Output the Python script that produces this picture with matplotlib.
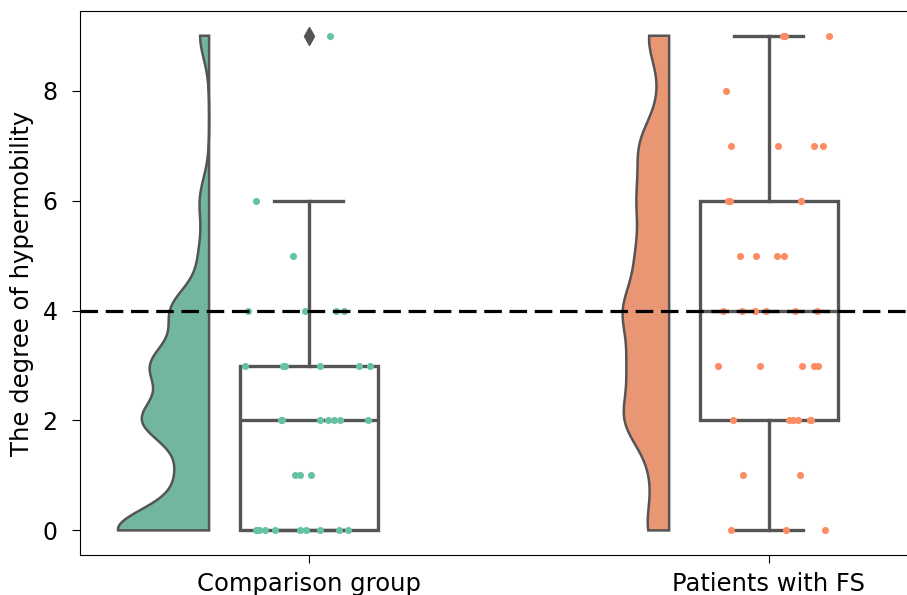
import numpy as np
import matplotlib
matplotlib.use("Agg")
import matplotlib.pyplot as plt

# ---- data ----
groups = ["Comparison group", "Patients with FS"]
comp_values = [0, 1, 2, 3, 4, 5, 6, 9]
comp_counts = [10, 3, 7, 6, 4, 1, 1, 1]
fs_values = [0, 1, 2, 3, 4, 5, 6, 7, 8, 9]
fs_counts = [3, 2, 6, 5, 6, 4, 4, 4, 1, 3]
colors = ["#66c2a5", "#fc8d62"]
threshold = 4
ylabel = "The degree of hypermobility"

data = [np.repeat(comp_values, comp_counts).astype(float),
        np.repeat(fs_values, fs_counts).astype(float)]

fig = plt.figure(figsize=(9.07, 5.95), dpi=100)
ax = fig.add_axes([0.088, 0.067, 0.912, 0.9145])

gray = "#555555"

def desat(c, s=0.75):
    import colorsys
    r, g, b = matplotlib.colors.to_rgb(c)
    h, l, sat = colorsys.rgb_to_hls(r, g, b)
    return colorsys.hls_to_rgb(h, l, sat * s)

# KDE half violins (scale = area)
dens = []
grids = []
for d in data:
    bw = 0.2 * np.std(d, ddof=1)
    yy = np.linspace(d.min(), d.max(), 400)
    k = np.exp(-0.5 * ((yy[:, None] - d[None, :]) / bw) ** 2).sum(axis=1) / (len(d) * bw * np.sqrt(2 * np.pi))
    dens.append(k)
    grids.append(yy)
mx = max(k.max() for k in dens)
half_w = 0.198
offset = 0.217
for i, (yy, k) in enumerate(zip(grids, dens)):
    base = i - offset
    xs = base - k / mx * half_w
    poly_x = np.concatenate([xs, [base, base]])
    poly_y = np.concatenate([yy, [yy[-1], yy[0]]])
    ax.fill(poly_x, poly_y, facecolor=desat(colors[i]), edgecolor=gray, lw=1.8, zorder=2)

# boxplots
bp = ax.boxplot(data, positions=[0, 1], widths=0.3, whis=1.5, patch_artist=True,
                manage_ticks=False,
                boxprops=dict(facecolor="none", edgecolor=gray, lw=2.4),
                whiskerprops=dict(color=gray, lw=2.4),
                capprops=dict(color=gray, lw=2.4),
                medianprops=dict(color=gray, lw=2.4),
                flierprops=dict(marker="d", markerfacecolor=gray, markeredgecolor=gray, markersize=9))
for el in ["boxes", "whiskers", "caps", "medians", "fliers"]:
    for a in bp[el]:
        a.set_zorder(3)

# strip points (jittered horizontally)
rng = np.random.default_rng(3)
for i, d in enumerate(data):
    jx = i + rng.uniform(-0.14, 0.14, size=len(d))
    ax.scatter(jx, d, s=26, color=colors[i], zorder=4, linewidths=0)

ax.axhline(threshold, color="black", lw=2.3, dashes=(5.5, 2.4), zorder=5)

ax.set_xlim(-0.498, 1.3)
ax.set_ylim(-0.45, 9.45)
ax.set_xticks([0, 1])
ax.set_xticklabels(groups, fontsize=17.5)
ax.set_yticks([0, 2, 4, 6, 8])
ax.tick_params(axis="x", length=6, pad=6)
ax.tick_params(axis="y", length=6, pad=10, labelsize=17)
ax.set_ylabel(ylabel, fontsize=17.5)
ax.yaxis.set_label_coords(-0.055, 0.5)
ax.spines["right"].set_visible(False)

fig.savefig("out.png", dpi=100)
